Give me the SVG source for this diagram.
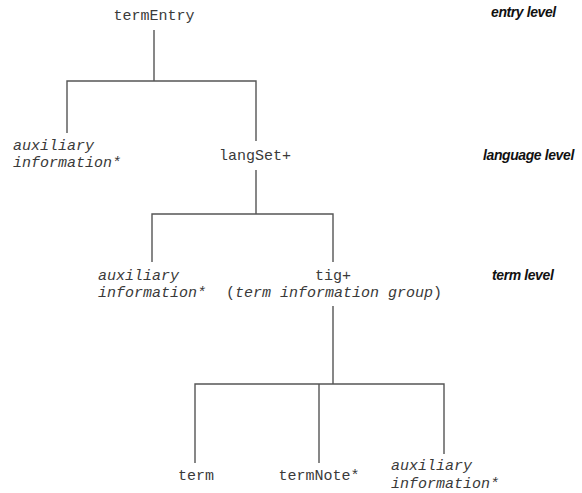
<svg xmlns="http://www.w3.org/2000/svg" width="582" height="493" viewBox="0 0 582 493">
  <style>
    .node { font-family: "Courier New", "Nimbus Mono PS", "Liberation Mono", monospace; font-size: 15px; fill: #3a3a3a; }
    .opt { font-style: italic; }
    .level { font-family: "Liberation Sans", Arial, sans-serif; font-size: 14px; font-weight: bold; font-style: italic; fill: #111; letter-spacing: -0.4px; }
    .edge { stroke: #555; stroke-width: 1.4; fill: none; }
  </style>
  <rect width="582" height="493" fill="#fff"/>

  <g id="connectors">
    <path class="edge" d="M154 30 V81 M67 133 V81 H256 V141"/>
    <path class="edge" d="M256 170 V214 M152 262 V214 H333 V262"/>
    <path class="edge" d="M333 306 V384 M195 463 V384 H444 V454 M319 384 V463"/>
  </g>

  <g id="termEntry"><text class="node" x="154" y="20" text-anchor="middle">termEntry</text></g>

  <g id="aux1">
    <text class="node opt" x="13" y="150">auxiliary</text>
    <text class="node opt" x="13" y="167">information*</text>
  </g>
  <g id="langSet"><text class="node" x="255" y="160" text-anchor="middle">langSet+</text></g>

  <g id="aux2">
    <text class="node opt" x="98" y="280">auxiliary</text>
    <text class="node opt" x="98" y="297">information*</text>
  </g>
  <g id="tig">
    <text class="node" x="333" y="280" text-anchor="middle">tig+</text>
    <text class="node" x="334" y="297" text-anchor="middle">(<tspan class="opt">term information group</tspan>)</text>
  </g>

  <g id="term"><text class="node" x="196" y="480" text-anchor="middle">term</text></g>
  <g id="termNote"><text class="node" x="319" y="480" text-anchor="middle">termNote*</text></g>
  <g id="aux3">
    <text class="node opt" x="391" y="470">auxiliary</text>
    <text class="node opt" x="391" y="488">information*</text>
  </g>

  <g id="levels">
    <text class="level" x="491" y="17">entry level</text>
    <text class="level" x="483" y="160">language level</text>
    <text class="level" x="492" y="280">term level</text>
  </g>
</svg>
